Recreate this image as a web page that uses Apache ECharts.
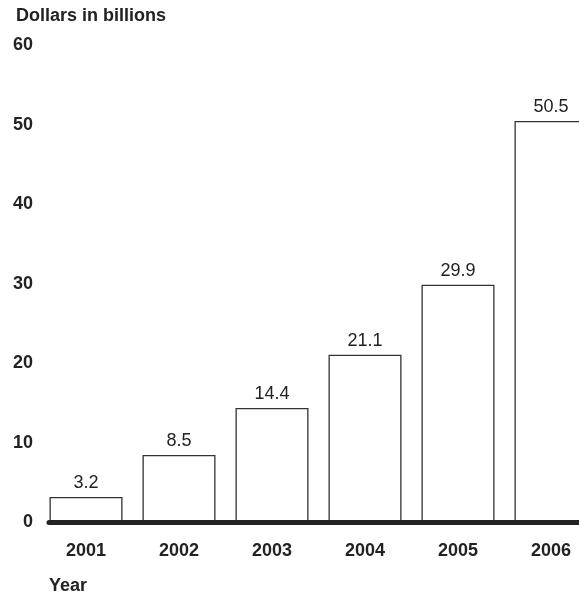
<!DOCTYPE html>
<html>
<head>
<meta charset="utf-8">
<script src="https://cdn.jsdelivr.net/npm/echarts@6/dist/echarts.min.js"></script>
<style>
html,body{margin:0;padding:0;background:#fff;}
#chart{width:579px;height:596px;}
</style>
</head>
<body>
<div id="chart"></div>
<script>
var years = ['2001', '2002', '2003', '2004', '2005', '2006'];
var values = [3.2, 8.5, 14.4, 21.1, 29.9, 50.5];
var yTicks = [0, 10, 20, 30, 40, 50, 60];

var FONT = '"Liberation Sans", Arial, Helvetica, sans-serif';
var chart = echarts.init(document.getElementById('chart'), null, {renderer: 'canvas'});
chart.setOption({
  animation: false,
  backgroundColor: '#fff',
  title: {
    text: 'Dollars in billions',
    left: 11, top: 2,
    textStyle: {fontFamily: FONT, fontSize: 18, fontWeight: 'bold', color: '#222'}
  },
  graphic: [{
    type: 'text', left: 49, top: 577,
    style: {text: 'Year', font: 'bold 18px ' + FONT, fill: '#222'}
  }],
  grid: [
    {left: 39.5, width: 558, top: 45.5, bottom: 73.5, containLabel: false, outerBoundsMode: 'none'},
    {left: 49, width: 560, top: 45.5, bottom: 73.5, containLabel: false, outerBoundsMode: 'none'}
  ],
  xAxis: [
    {
      type: 'category', gridIndex: 0, data: years, boundaryGap: true,
      axisLine: {show: false}, axisTick: {show: false},
      axisLabel: {margin: 20, fontFamily: FONT, fontSize: 18, fontWeight: 'bold', color: '#222'}
    },
    {
      type: 'value', gridIndex: 1, min: 0, max: 1, z: 10,
      axisLine: {show: true, lineStyle: {color: '#222', width: 5}},
      axisTick: {show: false}, axisLabel: {show: false}, splitLine: {show: false}
    }
  ],
  yAxis: [
    {
      type: 'value', gridIndex: 0, min: 0, max: 60, interval: 10,
      axisLine: {show: false}, axisTick: {show: false}, splitLine: {show: false},
      axisLabel: {
        margin: 6.5, fontFamily: FONT, fontSize: 18, fontWeight: 'bold', color: '#222',
        formatter: function (v) { return yTicks.indexOf(v) >= 0 ? String(v) : ''; }
      }
    },
    {
      type: 'value', gridIndex: 1, min: 0, max: 1, show: false
    }
  ],
  series: [{
    type: 'bar', xAxisIndex: 0, yAxisIndex: 0,
    data: values, barWidth: 73,
    itemStyle: {color: '#fff', borderColor: '#333', borderWidth: 1.3},
    label: {
      show: true, position: 'top', distance: 5,
      fontFamily: FONT, fontSize: 18, fontWeight: 'normal', color: '#222',
      formatter: function (p) { return p.value.toFixed(1); }
    }
  }]
});
</script>
</body>
</html>
